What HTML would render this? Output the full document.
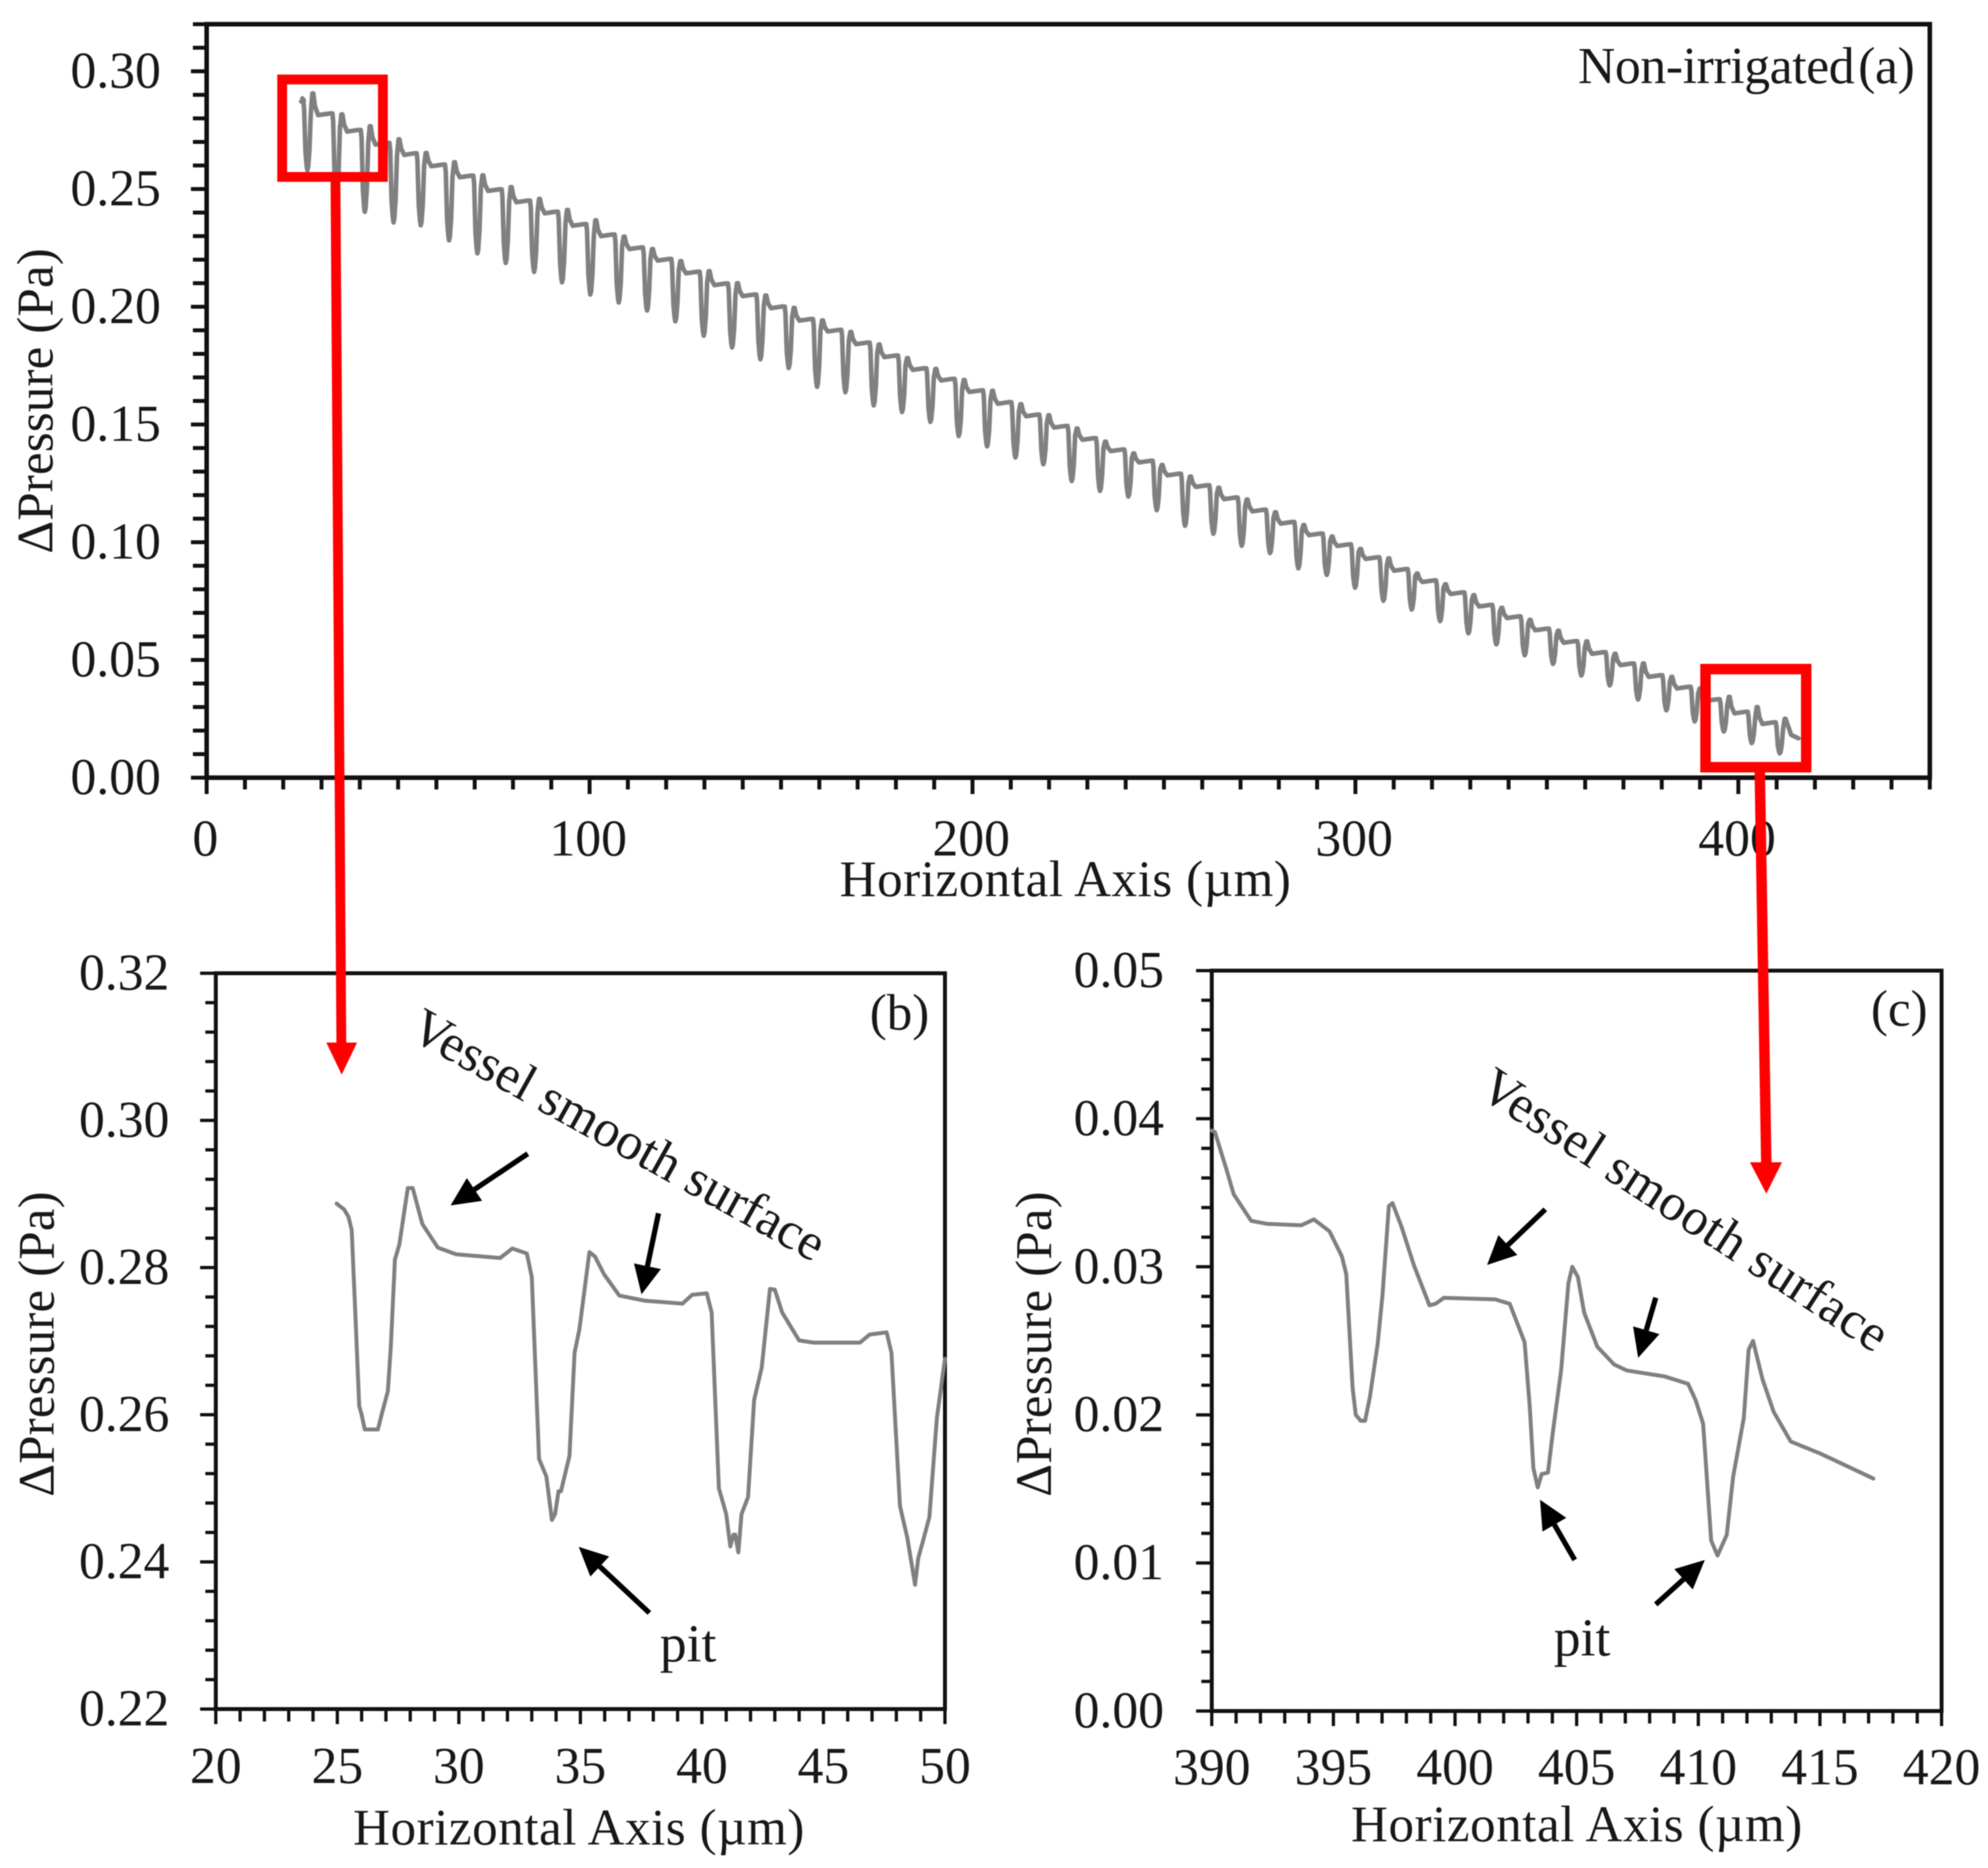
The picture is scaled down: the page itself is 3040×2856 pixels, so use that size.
<!DOCTYPE html>
<html lang="en">
<head>
<meta charset="utf-8">
<title>Non-irrigated pressure drop along the horizontal axis</title>
<style>
html,body{margin:0;padding:0;background:#fff;overflow:hidden;}
svg{display:block;filter:blur(0.9px);}
text{font-family:"Liberation Serif",serif;fill:#181818;}
</style>
</head>
<body>
<svg id="figure" xmlns="http://www.w3.org/2000/svg" width="3040" height="2856" viewBox="0 0 3040 2856">
  <rect x="0" y="0" width="3040" height="2856" fill="#ffffff"/>
  <g id="panels"></g>
  <g id="annotations">
    <text x="2413" y="127" font-size="79" textLength="515">Non-irrigated&#8202;(a)</text>
    <text x="1330" y="1574" font-size="78">(b)</text>
    <text x="2861" y="1568" font-size="78">(c)</text>
    <text x="0" y="0" font-size="80" textLength="710" transform="translate(623 1586) rotate(29)">Vessel smooth surface</text>
    <text x="0" y="0" font-size="80" textLength="726" transform="translate(2258 1674) rotate(33)">Vessel smooth surface</text>
    <text x="1009" y="2540" font-size="82">pit</text>
    <text x="2376" y="2531" font-size="82">pit</text>
  </g>
  <g id="callouts"></g>
</svg>
<script>
// Panel (a): one entry per pit
const panelAPitX = [26.3,33.9,41.3,48.8,55.9,63.3,70.7,78.1,85.5,92.8,100.2,107.6,115.0,122.4,129.8,137.2,144.6,152.0,159.4,166.8,174.2,181.6,189.0,196.4,203.8,211.2,218.5,225.9,233.3,240.7,248.1,255.5,262.9,270.3,277.7,285.1,292.5,299.9,307.3,314.7,322.1,329.5,336.8,344.2,351.6,359.0,366.4,373.8,381.2,388.6,396.2,403.5,410.8];
const panelAPitBottom = [.258,.246,.2403,.2358,.2346,.2282,.2227,.2186,.2148,.2104,.2052,.2018,.1984,.1938,.1877,.1827,.1777,.1740,.1660,.1637,.1581,.1553,.1511,.1451,.1407,.1360,.1331,.1260,.1218,.1194,.1136,.1070,.1036,.0985,.0954,.0889,.0861,.0807,.0751,.0714,.0665,.0613,.0566,.0520,.0483,.0434,.0392,.0332,.0286,.0239,.0196,.0147,.0103];
const panelAPlateau = [.2865,.2814,.2744,.2689,.2645,.2597,.255,.2492,.2444,.2397,.2344,.23,.2245,.2196,.2142,.2092,.2045,.1994,.1941,.1895,.1841,.1786,.1732,.1687,.1638,.1588,.1535,.1487,.1435,.1387,.1339,.1284,.1235,.1183,.1131,.1079,.1030,.0984,.0929,.0879,.0831,.0780,.0727,.0678,.0626,.0573,.0526,.0478,.0428,.0379,.0326,.0273,.0228];
const panelAPeak = [.2906,.2817,.2767,.2711,.2653,.2614,.2558,.2508,.2458,.2411,.2367,.2298,.2245,.2194,.2151,.21,.2048,.1995,.1942,.1893,.184,.1782,.1736,.1689,.1643,.1586,.1539,.1483,.1427,.1377,.1328,.1279,.1231,.1181,.1127,.1073,.1024,.0971,.0931,.0867,.0821,.0775,.0721,.067,.0624,.0579,.0526,.0485,.0428,.0379,.0343,.03,.025];
const panelAHeadX = [25,25.4];
const panelAHeadY = [.2885,.2875];
const panelATailX = [413.8,415.7];
const panelATailY = [.0182,.0167];
const panelAXTickLabels = ["0","100","200","300","400"];
const panelAYTickLabels = ["0.00","0.05","0.10","0.15","0.20","0.25","0.30"];

// Panel (b)
const panelBX = [24.97,25.28,25.46,25.59,25.74,25.9,26.0,26.13,26.67,26.82,27.08,27.2,27.37,27.55,27.9,28.1,28.5,29.14,29.9,31.7,32.2,32.8,33.0,33.3,33.6,33.83,33.96,34.1,34.2,34.55,34.76,34.96,35.37,35.6,35.97,36.6,37.64,39.2,39.6,40.2,40.4,40.7,41.0,41.17,41.3,41.37,41.5,41.63,41.9,42.15,42.46,42.8,43.0,43.3,44.0,44.6,46.5,46.9,47.6,47.8,48.15,48.45,48.77,48.9,49.1,49.36,49.67,50];
const panelBY = [.2887,.2879,.2869,.2851,.2739,.2612,.26,.258,.258,.26,.2632,.2692,.2811,.2831,.2908,.2908,.2859,.2827,.2818,.2813,.2826,.2819,.2787,.254,.2516,.2457,.2465,.2496,.2496,.2544,.2684,.2716,.2821,.2815,.2791,.2762,.2755,.2751,.2763,.2765,.2739,.25,.2465,.2421,.2437,.2437,.2413,.2465,.2488,.262,.2664,.2771,.277,.2739,.2701,.2698,.2698,.2709,.2712,.2684,.2476,.2433,.2369,.2405,.2429,.2461,.2596,.2676];
const panelBXTickLabels = ["20","25","30","35","40","45","50"];
const panelBYTickLabels = ["0.22","0.24","0.26","0.28","0.30","0.32"];

// Panel (c)
const panelCX = [390,390.13,390.6,390.9,391.62,392.26,393.68,394.2,394.84,395.35,395.53,395.79,395.92,396.12,396.3,396.5,396.82,397.02,397.28,397.43,397.8,398.31,398.95,399.2,399.54,401.65,402.25,402.86,403.07,403.22,403.4,403.56,403.82,404.02,404.36,404.66,404.82,405.05,405.31,405.85,406.54,407.06,408.6,409.58,409.89,410.2,410.53,410.79,411.17,411.43,411.87,412.07,412.25,412.64,413.1,413.8,415.0,417.2];
const panelCY = [.0392,.0391,.0366,.0349,.0331,.0329,.0328,.0332,.0324,.0307,.0295,.0218,.02,.0196,.0196,.0212,.0248,.0281,.0341,.0343,.0327,.0301,.0274,.0275,.0279,.0278,.0275,.0249,.0206,.0164,.0151,.016,.0161,.0188,.023,.0289,.03,.0293,.0269,.0246,.0234,.023,.0226,.0221,.021,.0194,.0115,.0105,.0119,.0158,.0198,.0244,.025,.0224,.0202,.0182,.0174,.0157];
const panelCXTickLabels = ["390","395","400","405","410","415","420"];
const panelCYTickLabels = ["0.00","0.01","0.02","0.03","0.04","0.05"];

const SVG_NS = "http://www.w3.org/2000/svg";
const panelsLayer = document.getElementById("panels");
const calloutsLayer = document.getElementById("callouts");
const annotationsLayer = document.getElementById("annotations");

function make(parent, tag, attrs, name) {
  const el = document.createElementNS(SVG_NS, tag);
  for (const k in attrs) el.setAttribute(k, attrs[k]);
  
  
  parent.appendChild(el);
  return el;
}

function makeAxes(p) {
  p.sx = v => p.left + (v - p.xMin) / (p.xMax - p.xMin) * (p.right - p.left);
  p.sy = v => p.bottom - (v - p.yMin) / (p.yMax - p.yMin) * (p.bottom - p.top);
  const g = make(panelsLayer, "g", {}, p.id + "-panel");

  // y ticks
  const yMinorCount = Math.round((p.yMax - p.yMin) / p.yMinorStep);
  const yMajorEvery = Math.round(p.yMajorStep / p.yMinorStep);
  for (let i = 0; i <= yMinorCount; i++) {
    const y = p.sy(p.yMin + i * p.yMinorStep);
    const major = i % yMajorEvery === 0 && (i / yMajorEvery) < p.yLabels.length;
    make(g, "line", {x1: p.left - (major ? p.yMajorLen : p.yMinorLen), x2: p.left, y1: y, y2: y, stroke: "#111", "stroke-width": p.tickW},
      p.id + (major ? "-y-major-tick" : "-y-minor-tick"));
    if (major) {
      const t = make(g, "text", {x: p.yLabelX, y: y + 25, "font-size": 79, "text-anchor": "end"}, p.id + "-y-tick-label");
      t.textContent = p.yLabels[i / yMajorEvery];
    }
  }

  // x ticks
  const xMinorCount = Math.round((p.xMax - p.xMin) / p.xMinorStep);
  const xMajorEvery = Math.round(p.xMajorStep / p.xMinorStep);
  for (let i = 0; i <= xMinorCount; i++) {
    const x = p.sx(p.xMin + i * p.xMinorStep);
    const major = i % xMajorEvery === 0;
    make(g, "line", {x1: x, x2: x, y1: p.bottom, y2: p.bottom + (major ? p.xMajorLen : p.xMinorLen), stroke: "#111", "stroke-width": p.tickW},
      p.id + (major ? "-x-major-tick" : "-x-minor-tick"));
    if (major && (i / xMajorEvery) < p.xLabels.length) {
      const t = make(g, "text", {x: x + p.xLabelDx, y: p.xLabelY, "font-size": 79, "text-anchor": "middle"}, p.id + "-x-tick-label");
      t.textContent = p.xLabels[i / xMajorEvery];
    }
  }

  // frame
  make(g, "rect", {x: p.left, y: p.top, width: p.right - p.left, height: p.bottom - p.top, fill: "none", stroke: "#111", "stroke-width": p.frameW}, p.id + "-plot-frame");

  // titles
  const xt = make(g, "text", {x: p.xTitleX, y: p.xTitleY, "font-size": 78, "text-anchor": "middle", textLength: 690}, p.id + "-x-axis-title");
  xt.textContent = "Horizontal Axis (\u00b5m)";
  const yt = make(g, "text", {x: 0, y: 0, "font-size": 78, "text-anchor": "middle", textLength: 467, transform: "translate(" + p.yTitleX + " " + p.yTitleY + ") rotate(-90)"}, p.id + "-y-axis-title");
  yt.textContent = "\u0394Pressure (Pa)";
  return g;
}

function drawCurve(p, g, xs, ys, width, name) {
  let pts = "";
  for (let i = 0; i < xs.length; i++) {
    pts += p.sx(xs[i]).toFixed(1) + "," + p.sy(ys[i]).toFixed(1) + " ";
  }
  make(g, "polyline", {points: pts.trim(), fill: "none", stroke: "#808080", "stroke-width": width, "stroke-linejoin": "round", "stroke-linecap": "round"}, name);
}

// Panel (a)
const panelA = {id: "panel-a", left: 316, right: 2951, top: 37, bottom: 1189, xMin: 0, xMax: 450, yMin: 0, yMax: 0.32,
  xMinorStep: 10, xMajorStep: 100, yMinorStep: 0.01, yMajorStep: 0.05,
  xLabels: panelAXTickLabels, yLabels: panelAYTickLabels,
  yMajorLen: 24, yMinorLen: 21, xMajorLen: 25, xMinorLen: 18, tickW: 6, frameW: 7,
  yLabelX: 246, xLabelY: 1308, xLabelDx: -2, xTitleX: 1629, xTitleY: 1370, yTitleX: 80, yTitleY: 613};
const gA = makeAxes(panelA);

const curveAX = panelAHeadX.slice();
const curveAY = panelAHeadY.slice();
for (let i = 0; i < panelAPitX.length; i++) {
  const x = panelAPitX[i], P = panelAPlateau[i], B = panelAPitBottom[i], K = panelAPeak[i];
  const next = i + 1 < panelAPlateau.length ? panelAPlateau[i + 1] : panelATailY[0];
  const mix = (a, b, t) => a + (b - a) * t;
  const shape = [
    [-1.6, P + .0007], [-1.05, P + .0007], [-0.85, mix(P, B, .08)], [-0.5, mix(P, B, .72)], [-0.2, mix(P, B, .93)],
    [0, B], [0.22, mix(P, B, .95)], [0.55, mix(P, B, .7)], [0.9, mix(P, B, .15)], [1.3, K], [1.55, K],
    [2.0, mix(K, next, .6)], [2.8, next]
  ];
  const end = i + 1 < panelAPlateau.length ? shape.length : shape.length - 2;
  for (let s = 0; s < end; s++) {
    curveAX.push(x + shape[s][0]);
    curveAY.push(shape[s][1]);
  }
}
for (let i = 0; i < panelATailX.length; i++) {
  curveAX.push(panelATailX[i]);
  curveAY.push(panelATailY[i]);
}
drawCurve(panelA, gA, curveAX, curveAY, 7, "panel-a-pressure-line");

// Panel (b)
const panelB = {id: "panel-b", left: 330, right: 1445, top: 1488, bottom: 2613, xMin: 20, xMax: 50, yMin: 0.22, yMax: 0.32,
  xMinorStep: 1, xMajorStep: 5, yMinorStep: 0.004, yMajorStep: 0.02,
  xLabels: panelBXTickLabels, yLabels: panelBYTickLabels,
  yMajorLen: 24, yMinorLen: 16, xMajorLen: 23, xMinorLen: 19, tickW: 5, frameW: 6,
  yLabelX: 259, xLabelY: 2726, xLabelDx: 0, xTitleX: 885, xTitleY: 2820, yTitleX: 82, yTitleY: 2055};
const gB = makeAxes(panelB);
drawCurve(panelB, gB, panelBX, panelBY, 6, "panel-b-pressure-line");

// Panel (c)
const panelC = {id: "panel-c", left: 1853, right: 2969, top: 1484, bottom: 2616, xMin: 390, xMax: 420, yMin: 0, yMax: 0.05,
  xMinorStep: 1, xMajorStep: 5, yMinorStep: 0.002, yMajorStep: 0.01,
  xLabels: panelCXTickLabels, yLabels: panelCYTickLabels,
  yMajorLen: 24, yMinorLen: 16, xMajorLen: 23, xMinorLen: 19, tickW: 5, frameW: 6,
  yLabelX: 1780, xLabelY: 2728, xLabelDx: 0, xTitleX: 2411, xTitleY: 2815, yTitleX: 1607, yTitleY: 2055};
const gC = makeAxes(panelC);
drawCurve(panelC, gC, panelCX, panelCY, 6, "panel-c-pressure-line");

// Black annotation arrows
function blackArrow(x1, y1, x2, y2, name) {
  const g = make(annotationsLayer, "g", {}, name);
  const L = Math.hypot(x2 - x1, y2 - y1), ux = (x2 - x1) / L, uy = (y2 - y1) / L;
  const headLen = 44, headHalf = 21;
  const bx = x2 - ux * headLen, by = y2 - uy * headLen;
  make(g, "line", {x1: x1, y1: y1, x2: bx, y2: by, stroke: "#000", "stroke-width": 8}, name + "-shaft");
  const pts = x2 + "," + y2 + " " + (bx - uy * headHalf) + "," + (by + ux * headHalf) + " " + (bx + uy * headHalf) + "," + (by - ux * headHalf);
  make(g, "polygon", {points: pts, fill: "#000"}, name + "-head");
}
blackArrow(807, 1764, 689, 1843, "panel-b-surface-arrow-left");
blackArrow(1007, 1855, 981, 1979, "panel-b-surface-arrow-right");
blackArrow(993, 2466, 885, 2365, "panel-b-pit-arrow");
blackArrow(2363, 1849, 2274, 1934, "panel-c-surface-arrow-left");
blackArrow(2532, 1984, 2505, 2076, "panel-c-surface-arrow-right");
blackArrow(2408, 2385, 2355, 2293, "panel-c-pit-arrow-left");
blackArrow(2532, 2453, 2607, 2385, "panel-c-pit-arrow-right");

// Red zoom callouts
make(calloutsLayer, "rect", {x: 431.5, y: 121.5, width: 154, height: 149, fill: "none", stroke: "#ff0000", "stroke-width": 15}, "zoom-box-start");
make(calloutsLayer, "rect", {x: 2608, y: 1023, width: 154, height: 150, fill: "none", stroke: "#ff0000", "stroke-width": 16}, "zoom-box-end");
make(calloutsLayer, "line", {x1: 513, y1: 278, x2: 522, y2: 1600, stroke: "#ff0000", "stroke-width": 15}, "callout-arrow-b-shaft");
make(calloutsLayer, "polygon", {points: "499,1594 546,1594 522.5,1643", fill: "#ff0000"}, "callout-arrow-b-head");
make(calloutsLayer, "line", {x1: 2691, y1: 1181, x2: 2701, y2: 1780, stroke: "#ff0000", "stroke-width": 16}, "callout-arrow-c-shaft");
make(calloutsLayer, "polygon", {points: "2676,1777 2725,1777 2701,1825", fill: "#ff0000"}, "callout-arrow-c-head");
</script>
</body>
</html>
